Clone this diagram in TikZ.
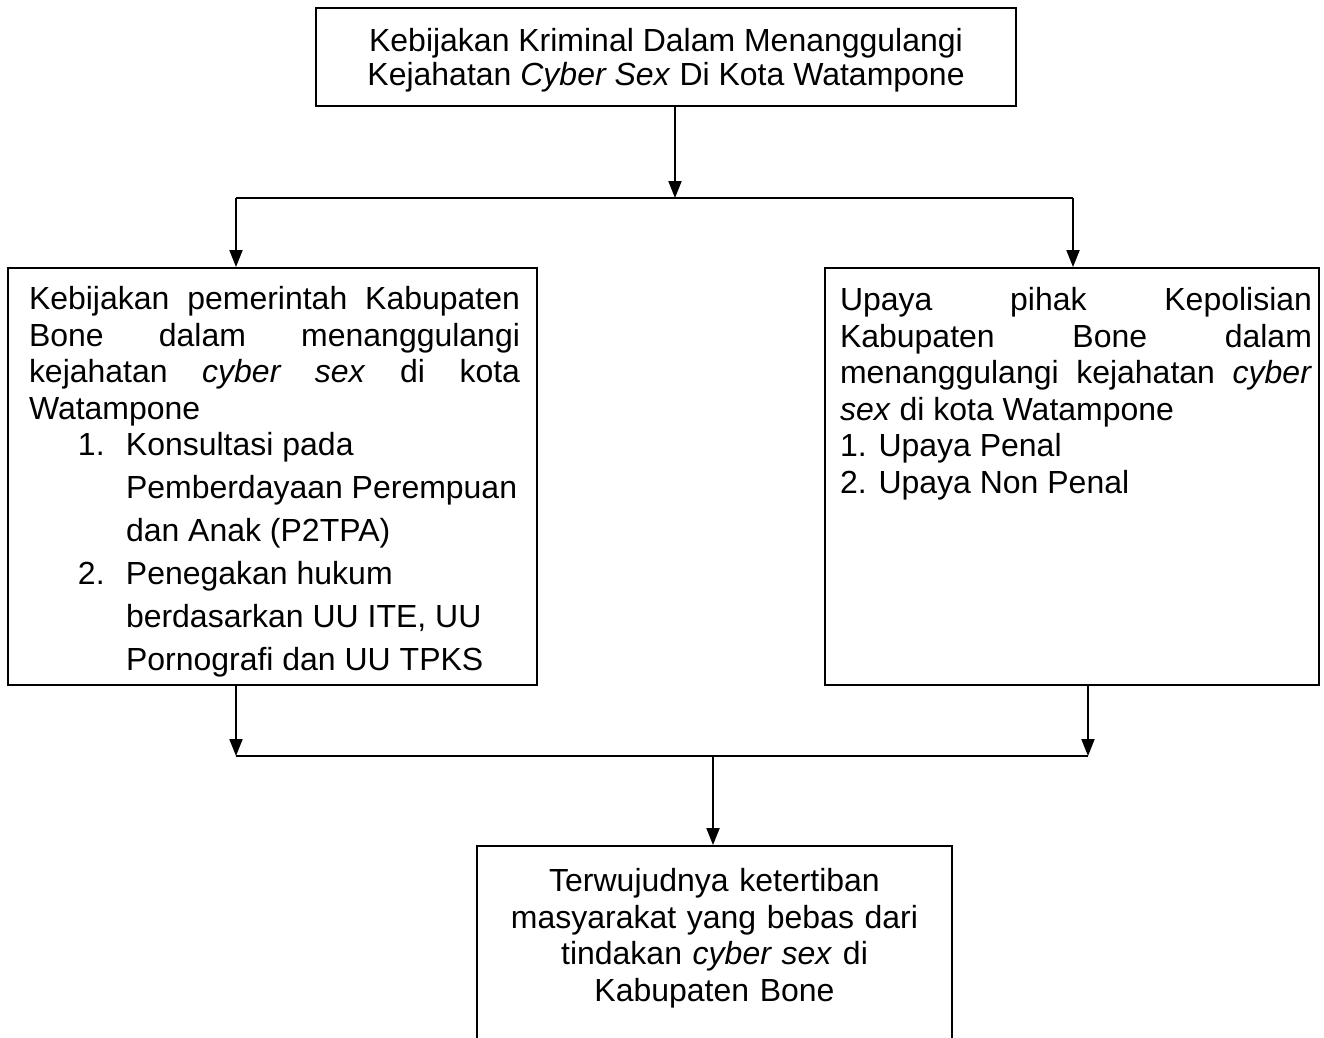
\documentclass[tikz,border=0pt]{standalone}
\usepackage{fontspec}
\setmainfont{Liberation Sans}
\usetikzlibrary{arrows.meta, positioning}

\begin{document}
\begin{tikzpicture}[>={Triangle[length=0.34cm, width=0.26cm]}, line width=1.1pt,
  kotak/.style={draw=black, line width=1.1pt, inner sep=0pt},
  isi/.style={inner sep=0pt, text width=#1, align=justify,
              font=\fontsize{18.2}{20.8}\selectfont,
              execute at begin node={\tolerance=10000\relax}}]

% Frame of the page
\path[use as bounding box, clip] (0,0) rectangle (26.48,-20.74);

% =========== JUDUL ===========
\node[kotak, minimum width=14cm, minimum height=1.96cm, align=center,
      font=\fontsize{18.2}{19.4}\selectfont] (judul) at (13.32,-1.14)
  {\rule{0pt}{0.6cm}Kebijakan Kriminal Dalam Menanggulangi\\Kejahatan \textit{Cyber Sex} Di Kota Watampone};

% =========== DUA UPAYA ===========
\node[kotak, minimum width=10.58cm, minimum height=8.34cm] (kebijakan) at (5.45,-9.53) {};
\node[isi=9.82cm, below right=0.37cm and 0.42cm of kebijakan.north west] (kebijakanIsi)
  {Kebijakan pemerintah Kabupaten\linebreak
   Bone dalam menanggulangi\linebreak
   kejahatan \textit{cyber sex} di kota\linebreak
   Watampone\\
   \hspace*{0.98cm}\makebox[0.96cm][l]{1.}Konsultasi pada\\[3.6pt]
   \hspace*{1.94cm}Pemberdayaan Perempuan\\[3.6pt]
   \hspace*{1.94cm}dan Anak (P2TPA)\\[3.6pt]
   \hspace*{0.98cm}\makebox[0.96cm][l]{2.}Penegakan hukum\\[3.6pt]
   \hspace*{1.94cm}berdasarkan UU ITE, UU\\[3.6pt]
   \hspace*{1.94cm}Pornografi dan UU TPKS};

\node[kotak, minimum width=9.88cm, minimum height=8.34cm] (upaya) at (21.44,-9.53) {};
\node[isi=9.44cm, below right=0.39cm and 0.3cm of upaya.north west] (upayaIsi)
  {Upaya pihak Kepolisian\linebreak
   Kabupaten Bone dalam\linebreak
   menanggulangi kejahatan \textit{cyber}\linebreak
   \textit{sex} di kota Watampone\\
   1. Upaya Penal\\
   2. Upaya Non Penal};

% =========== HASIL ===========
\node[kotak, minimum width=9.5cm, minimum height=4.3cm] (hasil) at (14.29,-19.07) {};
\node[isi=9.3cm, align=center, below=0.45cm of hasil.north] (hasilIsi)
  {Terwujudnya ketertiban\\
   masyarakat yang bebas dari\\
   tindakan \textit{cyber sex} di\\
   Kabupaten Bone};

% Cabang dari judul
\coordinate (cabangAtas) at (13.5,-3.96);
\coordinate (cabangKiri) at (4.72,-3.96);
\coordinate (cabangKanan) at (21.46,-3.96);
\draw[->] (judul.south -| cabangAtas) -- (cabangAtas);
\draw (cabangKiri) -- (cabangKanan);
\draw[->] (cabangKiri) -- (kebijakan.north -| cabangKiri);
\draw[->] (cabangKanan) -- (upaya.north -| cabangKanan);

% Gabungan ke hasil
\coordinate (gabungKiri) at (4.72,-15.12);
\coordinate (gabungKanan) at (21.76,-15.12);
\coordinate (gabungTengah) at (14.26,-15.12);
\draw[->] (kebijakan.south -| gabungKiri) -- (gabungKiri);
\draw[->] (upaya.south -| gabungKanan) -- (gabungKanan);
\draw (gabungKiri) -- (gabungKanan);
\draw[->] (gabungTengah) -- (hasil.north -| gabungTengah);

\end{tikzpicture}
\end{document}
